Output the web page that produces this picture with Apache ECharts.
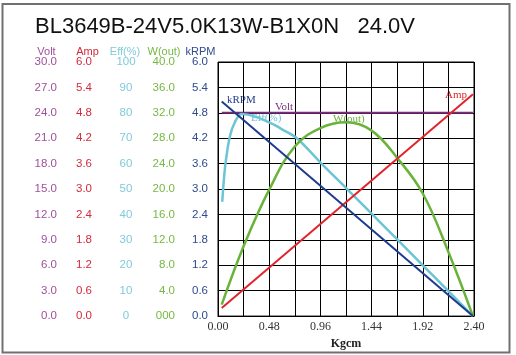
<!DOCTYPE html>
<html><head><meta charset="utf-8">
<script src="https://cdn.jsdelivr.net/npm/echarts@6/dist/echarts.min.js"></script>
<style>html,body{margin:0;padding:0;background:#fff}#c{width:516px;height:355px}</style>
</head><body><div id="c"></div>
<script>
// ---- data ----
const titleText = 'BL3649B-24V5.0K13W-B1X0N   24.0V';
const xTicks = ['0.00','0.48','0.96','1.44','1.92','2.40'];
const voltTicks = ['0.0','3.0','6.0','9.0','12.0','15.0','18.0','21.0','24.0','27.0','30.0'];
const ampTicks = ['0.0','0.6','1.2','1.8','2.4','3.0','3.6','4.2','4.8','5.4','6.0'];
const effTicks = ['0','10','20','30','40','50','60','70','80','90','100'];
const wTicks = ['000','4.0','8.0','12.0','16.0','20.0','24.0','28.0','32.0','36.0','40.0'];
const rpmTicks = ['0.0','0.6','1.2','1.8','2.4','3.0','3.6','4.2','4.8','5.4','6.0'];

const voltX = [0.035, 2.39];
const voltY = [24.0, 24.0];
const ampX = [0.035, 2.39];
const ampY = [0.19, 5.24];
const rpmX = [0.035, 2.39];
const rpmY = [5.07, 0];
const effX = [0.04, 0.066, 0.11, 0.16, 0.22, 0.35, 0.5, 0.6, 0.74, 0.97, 1.21, 1.44, 1.68, 1.92, 2.16, 2.39];
const effY = [45, 58.5, 70.5, 76.5, 79.5, 78.5, 75.8, 73.5, 70, 60, 50, 40.3, 30.2, 20, 9.8, 0];
const wX = [0.035, 0.24, 0.48, 0.72, 0.96, 1.2, 1.44, 1.68, 1.92, 2.16, 2.39];
const wY = [1.8, 11.0, 19.9, 26.7, 29.6, 30.5, 29.2, 24.9, 19.3, 10.1, 0];

// ---- styles ----
const C = {volt:'#7B2D7B', voltT:'#A0509A', amp:'#E3232B', ampT:'#D42A3C', eff:'#6CC4D4', effT:'#80CADA',
           w:'#6AB33A', wT:'#76B843', rpm:'#1E3C8C', rpmT:'#2F4A8E'};
const sans = '"Liberation Sans", Arial, sans-serif';
const serif = '"Liberation Serif", "Times New Roman", serif';

function zip(a,b){return a.map((v,i)=>[v,b[i]]);}
function yAx(max, ticks, color, offset, align, splitShow){
  const step = max/10;
  return {type:'value', min:0, max:max, interval:step, position:'left', offset:offset,
    axisLine:{show:false}, axisTick:{show:false},
    splitLine:{show:splitShow, lineStyle:{color:'#000', width:1}},
    axisLabel:{color:color, fontFamily:sans, fontSize:11.5, margin:0, align:align,
      formatter:(v)=>ticks[Math.round(v/step)]}};
}

const chart = echarts.init(document.getElementById('c'), null, {renderer:'canvas'});
chart.setOption({
  animation:false,
  backgroundColor:'#fff',
  grid:{left:218, top:62, width:256, height:256, show:true, borderColor:'#000', borderWidth:1},
  xAxis:{type:'value', min:0, max:2.4, interval:0.48,
    axisLine:{show:true, lineStyle:{color:'#000'}}, axisTick:{show:false},
    splitLine:{show:true, lineStyle:{color:'#000', width:1}},
    minorTick:{show:false, splitNumber:2},
    minorSplitLine:{show:true, lineStyle:{color:'#000', width:1}},
    axisLabel:{color:'#333', fontFamily:serif, fontSize:12, margin:5,
      formatter:(v)=>xTicks[Math.round(v/0.48)]},
    name:'Kgcm', nameLocation:'middle', nameGap:17,
    nameTextStyle:{fontFamily:serif, fontWeight:'bold', fontSize:12, color:'#222'}},
  yAxis:[
    yAx(30, voltTicks, C.voltT, 161, 'right', false),
    yAx(6, ampTicks, C.ampT, 126, 'right', false),
    yAx(100, effTicks, C.effT, 92, 'center', false),
    yAx(40, wTicks, C.wT, 43, 'right', false),
    yAx(6, rpmTicks, C.rpmT, 10, 'right', true)
  ],
  series:[
    {type:'line', yAxisIndex:0, data:zip(voltX,voltY), symbol:'none', lineStyle:{color:C.volt, width:2}},
    {type:'line', yAxisIndex:2, data:zip(effX,effY), symbol:'none', smooth:0.3, lineStyle:{color:C.eff, width:2.5}},
    {type:'line', yAxisIndex:3, data:zip(wX,wY), symbol:'none', smooth:0.4, lineStyle:{color:C.w, width:2.5}},
    {type:'line', yAxisIndex:1, data:zip(ampX,ampY), symbol:'none', lineStyle:{color:C.amp, width:2}},
    {type:'line', yAxisIndex:4, data:zip(rpmX,rpmY), symbol:'none', lineStyle:{color:C.rpm, width:2}}
  ],
  graphic:[
    {type:'rect', shape:{x:2.5, y:4, width:507, height:348.5}, style:{fill:'none', stroke:'#707070', lineWidth:2}, silent:true},
    {type:'text', x:35, y:27, style:{text:titleText, font:'22px '+sans, fill:'#111', textVerticalAlign:'middle'}},
    {type:'text', x:46.5, y:52, style:{text:'Volt', font:'11px '+sans, fill:C.voltT, textAlign:'center', textVerticalAlign:'middle'}},
    {type:'text', x:87.5, y:52, style:{text:'Amp', font:'11px '+sans, fill:C.ampT, textAlign:'center', textVerticalAlign:'middle'}},
    {type:'text', x:125, y:52, style:{text:'Eff(%)', font:'11px '+sans, fill:C.effT, textAlign:'center', textVerticalAlign:'middle'}},
    {type:'text', x:164, y:52, style:{text:'W(out)', font:'11px '+sans, fill:C.wT, textAlign:'center', textVerticalAlign:'middle'}},
    {type:'text', x:200.5, y:52, style:{text:'kRPM', font:'11px '+sans, fill:C.rpmT, textAlign:'center', textVerticalAlign:'middle'}},
    {type:'text', x:227, y:100, style:{text:'kRPM', font:'11px '+serif, fill:C.rpm, textVerticalAlign:'middle'}},
    {type:'text', x:275, y:107, style:{text:'Volt', font:'11px '+serif, fill:C.volt, textVerticalAlign:'middle'}},
    {type:'text', x:251, y:118, style:{text:'Eff(%)', font:'11px '+serif, fill:C.eff, textVerticalAlign:'middle'}},
    {type:'text', x:333, y:119.5, style:{text:'W(out)', font:'11px '+serif, fill:C.w, textVerticalAlign:'middle'}},
    {type:'text', x:445, y:95.5, style:{text:'Amp', font:'11px '+serif, fill:C.amp, textVerticalAlign:'middle'}}
  ]
});
</script>
</body></html>
